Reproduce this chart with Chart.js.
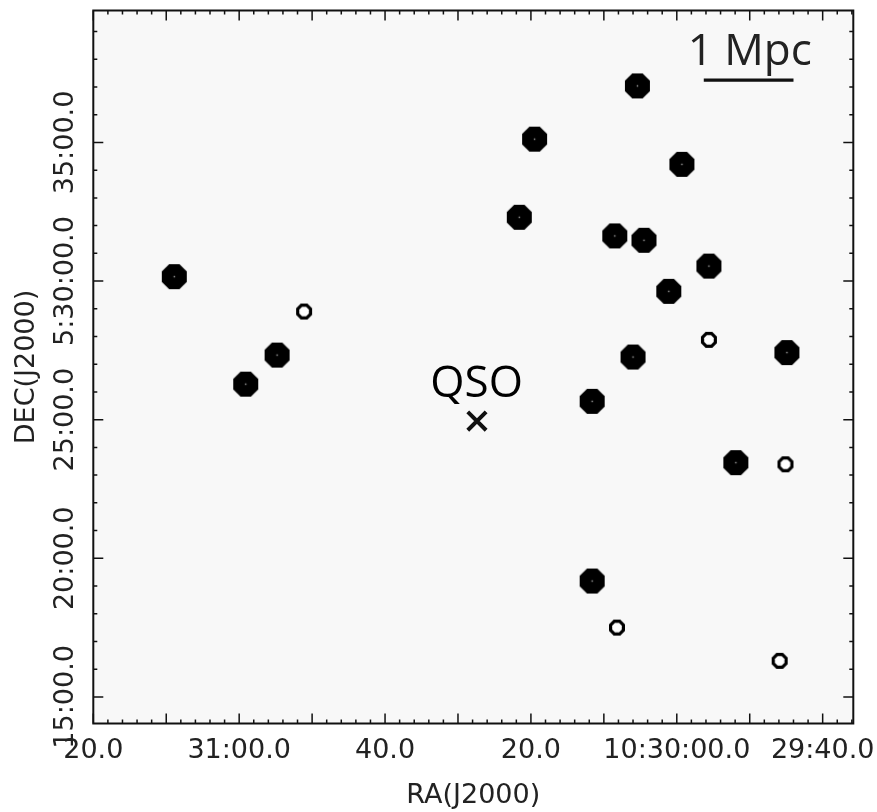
<!DOCTYPE html>
<html>
<head>
<meta charset="utf-8">
<title>Galaxy field around the QSO</title>
<script src="https://cdn.jsdelivr.net/npm/chart.js@4.4.1/dist/chart.umd.min.js"></script>
<style>
  html, body { margin: 0; padding: 0; background: #ffffff; }
  canvas { display: block; }
</style>
</head>
<body>
<canvas id="fieldChart" width="877" height="812"></canvas>
<script>
// RA kept as seconds of time after 10h29m00s, Dec as arcmin after +5d00m
const brightRa  = [128.9, 119.1, 114.8, 79.5, 81.6, 65.4, 59.3, 68.5, 64.5, 55.6, 61.1, 66.0, 71.6, 44.9, 51.9, 71.6];
const brightDec = [30.16, 26.28, 27.33, 35.12, 32.30, 37.04, 34.21, 31.63, 31.47, 30.54, 29.63, 27.26, 25.66, 27.42, 23.45, 19.18];
const faintRa  = [111.1, 55.6, 45.1, 68.2, 45.9];
const faintDec = [28.90, 27.88, 23.39, 17.50, 16.30];
const qsoRa  = [87.4];
const qsoDec = [24.95];
const scaleBarRa  = [56.3, 44.0];
const scaleBarDec = [37.25, 37.25];

const raLabelTicks = [140, 120, 100, 80, 60, 40];
const raLabels = ['20.0', '31:00.0', '40.0', '20.0', '10:30:00.0', '29:40.0'];
const decLabelTicks = [15, 20, 25, 30, 35];
const decLabels = ['15:00.0', '20:00.0', '25:00.0', '5:30:00.0', '35:00.0'];

const axisFont = '"DejaVu Sans", sans-serif';
const noteFont = '"Open Sans", sans-serif';

function toPoints(xs, ys) {
    return xs.map((x, i) => ({ x: x, y: ys[i] }));
}

// octagon markers, flat sides facing the axes
function octagon(size, filled) {
    const c = document.createElement('canvas');
    c.width = size + 6;
    c.height = size + 6;
    const g = c.getContext('2d');
    const cx = c.width / 2, cy = c.height / 2;
    const r = (filled ? size / 2 : size / 2 - 1.6) / Math.cos(Math.PI / 8);
    g.beginPath();
    for (let k = 0; k < 8; k++) {
        const a = Math.PI / 8 + k * Math.PI / 4;
        const px = cx + r * Math.cos(a), py = cy + r * Math.sin(a);
        if (k === 0) g.moveTo(px, py); else g.lineTo(px, py);
    }
    g.closePath();
    if (filled) {
        g.fillStyle = '#000';
        g.fill();
        g.fillStyle = '#aaa';
        g.fillRect(cx - 0.7, cy - 0.7, 1.4, 1.4);
    } else {
        g.fillStyle = '#fff';
        g.fill();
        g.lineWidth = 3.2;
        g.strokeStyle = '#000';
        g.stroke();
    }
    return c;
}

const bigMarker = octagon(25, true);
const smallMarker = octagon(16, false);

// frame with inward ticks on all four sides, tick labels and the notes
const frameTicks = {
    id: 'frameTicks',
    beforeDraw(chart) {
        const { ctx, chartArea: a } = chart;
        ctx.save();
        ctx.fillStyle = '#f8f8f8';
        ctx.fillRect(a.left, a.top, a.right - a.left, a.bottom - a.top);
        ctx.restore();
    },
    afterDatasetsDraw(chart) {
        const { ctx, chartArea: a } = chart;
        const xs = chart.scales.x, ys = chart.scales.y;
        ctx.save();
        ctx.strokeStyle = '#111';
        ctx.lineWidth = 1.5;
        ctx.beginPath();
        for (let s = 36; s <= 140; s += 2) {
            const len = s % 10 === 0 ? 10 : 4;
            const px = xs.getPixelForValue(s);
            ctx.moveTo(px, a.bottom); ctx.lineTo(px, a.bottom - len);
            ctx.moveTo(px, a.top); ctx.lineTo(px, a.top + len);
        }
        for (let m = 15; m <= 39; m++) {
            const len = m % 5 === 0 ? 10 : 4;
            const py = ys.getPixelForValue(m);
            ctx.moveTo(a.left, py); ctx.lineTo(a.left + len, py);
            ctx.moveTo(a.right, py); ctx.lineTo(a.right - len, py);
        }
        ctx.stroke();

        ctx.lineWidth = 2;
        ctx.strokeRect(a.left, a.top, a.right - a.left, a.bottom - a.top);

        ctx.fillStyle = '#222';
        ctx.font = '27px ' + axisFont;
        ctx.textAlign = 'center';
        ctx.textBaseline = 'middle';
        raLabelTicks.forEach((v, i) => {
            ctx.fillText(raLabels[i], xs.getPixelForValue(v), a.bottom + 27.5);
        });
        decLabelTicks.forEach((v, i) => {
            ctx.save();
            ctx.translate(a.left - 27, ys.getPixelForValue(v));
            ctx.rotate(-Math.PI / 2);
            ctx.fillText(decLabels[i], 0, 0);
            ctx.restore();
        });

        ctx.fillStyle = '#000';
        ctx.font = '44px ' + noteFont;
        ctx.textBaseline = 'alphabetic';
        ctx.fillText('QSO', xs.getPixelForValue(87.45), ys.getPixelForValue(25.83));
        ctx.fillStyle = '#222';
        ctx.fillText('1 Mpc', xs.getPixelForValue(50.0), ys.getPixelForValue(37.80));
        ctx.restore();
    }
};

const ctx = document.getElementById('fieldChart').getContext('2d');
const fieldChart = new Chart(ctx, {
    type: 'scatter',
    data: {
        datasets: [
            {
                label: 'bright',
                data: toPoints(brightRa, brightDec),
                pointStyle: bigMarker,
            },
            {
                label: 'faint',
                data: toPoints(faintRa, faintDec),
                pointStyle: smallMarker,
            },
            {
                label: 'QSO',
                data: toPoints(qsoRa, qsoDec),
                pointStyle: 'crossRot',
                pointRadius: 13,
                borderColor: '#111',
                borderWidth: 4,
            },
            {
                label: '1 Mpc',
                type: 'line',
                data: toPoints(scaleBarRa, scaleBarDec),
                borderColor: '#111',
                borderWidth: 3.3,
                pointRadius: 0,
            },
        ],
    },
    options: {
        responsive: false,
        animation: false,
        devicePixelRatio: 1,
        layout: {
            autoPadding: false,
            padding: { top: 10.5, right: 23.7, bottom: 0, left: 0 },
        },
        scales: {
            x: {
                type: 'linear',
                reverse: true,
                min: 35.8,
                max: 140,
                grid: { display: false },
                border: { display: false },
                ticks: { display: false },
                title: {
                    display: true,
                    text: 'RA(J2000)',
                    color: '#222',
                    font: { family: axisFont, size: 27 },
                    padding: { top: 0, bottom: 0 },
                },
                afterFit(scale) { scale.height = 88.5; },
            },
            y: {
                type: 'linear',
                min: 14.04,
                max: 39.76,
                grid: { display: false },
                border: { display: false },
                ticks: { display: false },
                title: {
                    display: true,
                    text: 'DEC(J2000)',
                    color: '#222',
                    font: { family: axisFont, size: 27 },
                    padding: { top: 11, bottom: 0 },
                },
                afterFit(scale) { scale.width = 93.3; },
            },
        },
        plugins: {
            legend: { display: false },
            tooltip: { enabled: false },
        },
    },
    plugins: [frameTicks],
});
</script>
</body>
</html>
